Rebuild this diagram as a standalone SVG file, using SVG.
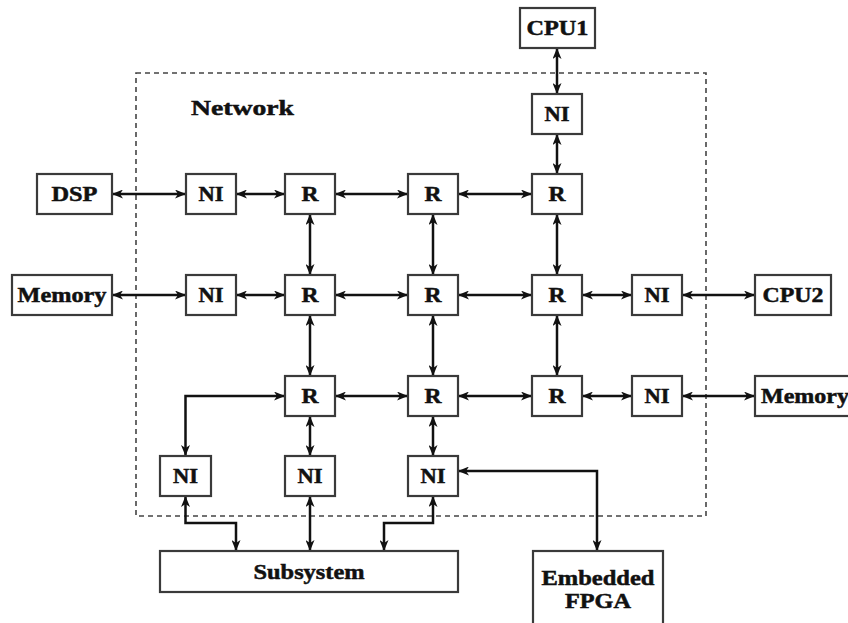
<svg xmlns="http://www.w3.org/2000/svg" width="848" height="623" viewBox="0 0 848 623">
<defs>
<marker id="ah" viewBox="0 0 11 9" refX="11" refY="4.5" markerWidth="11" markerHeight="9" markerUnits="userSpaceOnUse" orient="auto-start-reverse">
<path d="M0,0 L11,4.5 L0,9 L3,4.5 z" fill="#111"/>
</marker>
</defs>
<style>
.box{fill:#fff;stroke:#3a3a3a;stroke-width:2.2}
.lbl{font-family:"Liberation Serif","Tinos","Times New Roman",serif;font-weight:bold;font-size:21px;fill:#111;stroke:#111;stroke-width:0.5;text-anchor:middle}
.c{fill:none;stroke:#111;stroke-width:2.5;marker-start:url(#ah);marker-end:url(#ah)}
.net{fill:none;stroke:#444;stroke-width:1.6;stroke-dasharray:5,4}
</style>
<rect width="848" height="623" fill="#fff"/>
<g id="network">
<rect class="net" x="136" y="73" width="570" height="443"/>
<text class="lbl" x="191" y="115" style="text-anchor:start;font-size:22px" textLength="103" lengthAdjust="spacingAndGlyphs">Network</text>
</g>
<g id="connectors">
<line class="c" x1="557" y1="48" x2="557" y2="94"/>
<line class="c" x1="557" y1="134" x2="557" y2="174"/>
<line class="c" x1="112" y1="194" x2="186" y2="194"/>
<line class="c" x1="236" y1="194" x2="285" y2="194"/>
<line class="c" x1="335" y1="194" x2="408" y2="194"/>
<line class="c" x1="458" y1="194" x2="532" y2="194"/>
<line class="c" x1="310" y1="214" x2="310" y2="275"/>
<line class="c" x1="433" y1="214" x2="433" y2="275"/>
<line class="c" x1="557" y1="214" x2="557" y2="275"/>
<line class="c" x1="112" y1="295" x2="186" y2="295"/>
<line class="c" x1="236" y1="295" x2="285" y2="295"/>
<line class="c" x1="335" y1="295" x2="408" y2="295"/>
<line class="c" x1="458" y1="295" x2="532" y2="295"/>
<line class="c" x1="582" y1="295" x2="632" y2="295"/>
<line class="c" x1="682" y1="295" x2="755" y2="295"/>
<line class="c" x1="310" y1="315" x2="310" y2="376"/>
<line class="c" x1="433" y1="315" x2="433" y2="376"/>
<line class="c" x1="557" y1="315" x2="557" y2="376"/>
<line class="c" x1="335" y1="396" x2="408" y2="396"/>
<line class="c" x1="458" y1="396" x2="532" y2="396"/>
<line class="c" x1="582" y1="396" x2="632" y2="396"/>
<line class="c" x1="682" y1="396" x2="755" y2="396"/>
<polyline class="c" points="185.5,456 185.5,396 285,396"/>
<line class="c" x1="310" y1="416" x2="310" y2="456"/>
<line class="c" x1="433" y1="416" x2="433" y2="456"/>
<polyline class="c" points="458,471 597,471 597,551"/>
<polyline class="c" points="185.5,496 185.5,523 236,523 236,551"/>
<line class="c" x1="310" y1="496" x2="310" y2="551"/>
<polyline class="c" points="433,496 433,523 384,523 384,551"/>
</g>
<g id="cpu1"><rect class="box" x="520" y="8" width="75" height="40"/><text class="lbl" x="557.5" y="35" textLength="62" lengthAdjust="spacingAndGlyphs">CPU1</text></g>
<g id="ni_top"><rect class="box" x="532" y="94" width="50" height="40"/><text class="lbl" x="557" y="121" textLength="25" lengthAdjust="spacingAndGlyphs">NI</text></g>
<g id="dsp"><rect class="box" x="37" y="174" width="75" height="40"/><text class="lbl" x="74.5" y="201" textLength="46" lengthAdjust="spacingAndGlyphs">DSP</text></g>
<g id="ni_dsp"><rect class="box" x="186" y="174" width="50" height="40"/><text class="lbl" x="211" y="201" textLength="25" lengthAdjust="spacingAndGlyphs">NI</text></g>
<g id="r11"><rect class="box" x="285" y="174" width="50" height="40"/><text class="lbl" x="310" y="201" textLength="17" lengthAdjust="spacingAndGlyphs">R</text></g>
<g id="r12"><rect class="box" x="408" y="174" width="50" height="40"/><text class="lbl" x="433" y="201" textLength="17" lengthAdjust="spacingAndGlyphs">R</text></g>
<g id="r13"><rect class="box" x="532" y="174" width="50" height="40"/><text class="lbl" x="557" y="201" textLength="17" lengthAdjust="spacingAndGlyphs">R</text></g>
<g id="memory1"><rect class="box" x="12" y="275" width="100" height="40"/><text class="lbl" x="62" y="302" textLength="89" lengthAdjust="spacingAndGlyphs">Memory</text></g>
<g id="ni_mem1"><rect class="box" x="186" y="275" width="50" height="40"/><text class="lbl" x="211" y="302" textLength="25" lengthAdjust="spacingAndGlyphs">NI</text></g>
<g id="r21"><rect class="box" x="285" y="275" width="50" height="40"/><text class="lbl" x="310" y="302" textLength="17" lengthAdjust="spacingAndGlyphs">R</text></g>
<g id="r22"><rect class="box" x="408" y="275" width="50" height="40"/><text class="lbl" x="433" y="302" textLength="17" lengthAdjust="spacingAndGlyphs">R</text></g>
<g id="r23"><rect class="box" x="532" y="275" width="50" height="40"/><text class="lbl" x="557" y="302" textLength="17" lengthAdjust="spacingAndGlyphs">R</text></g>
<g id="ni_cpu2"><rect class="box" x="632" y="275" width="50" height="40"/><text class="lbl" x="657" y="302" textLength="25" lengthAdjust="spacingAndGlyphs">NI</text></g>
<g id="cpu2"><rect class="box" x="755" y="275" width="76" height="40"/><text class="lbl" x="793" y="302" textLength="61" lengthAdjust="spacingAndGlyphs">CPU2</text></g>
<g id="r31"><rect class="box" x="285" y="376" width="50" height="40"/><text class="lbl" x="310" y="403" textLength="17" lengthAdjust="spacingAndGlyphs">R</text></g>
<g id="r32"><rect class="box" x="408" y="376" width="50" height="40"/><text class="lbl" x="433" y="403" textLength="17" lengthAdjust="spacingAndGlyphs">R</text></g>
<g id="r33"><rect class="box" x="532" y="376" width="50" height="40"/><text class="lbl" x="557" y="403" textLength="17" lengthAdjust="spacingAndGlyphs">R</text></g>
<g id="ni_mem2"><rect class="box" x="632" y="376" width="50" height="40"/><text class="lbl" x="657" y="403" textLength="25" lengthAdjust="spacingAndGlyphs">NI</text></g>
<g id="memory2"><rect class="box" x="755" y="376" width="110" height="40"/><text class="lbl" x="761" y="403" style="text-anchor:start" textLength="88" lengthAdjust="spacingAndGlyphs">Memory</text></g>
<g id="ni_b1"><rect class="box" x="160" y="456" width="51" height="40"/><text class="lbl" x="185.5" y="483" textLength="25" lengthAdjust="spacingAndGlyphs">NI</text></g>
<g id="ni_b2"><rect class="box" x="285" y="456" width="50" height="40"/><text class="lbl" x="310" y="483" textLength="25" lengthAdjust="spacingAndGlyphs">NI</text></g>
<g id="ni_b3"><rect class="box" x="408" y="456" width="50" height="40"/><text class="lbl" x="433" y="483" textLength="25" lengthAdjust="spacingAndGlyphs">NI</text></g>
<g id="subsystem"><rect class="box" x="160" y="551" width="298" height="41"/><text class="lbl" x="309" y="579" textLength="111" lengthAdjust="spacingAndGlyphs">Subsystem</text></g>
<g id="fpga"><rect class="box" x="533" y="551" width="130" height="90"/><text class="lbl" x="598" y="585" textLength="113" lengthAdjust="spacingAndGlyphs">Embedded</text><text class="lbl" x="598" y="608" textLength="66" lengthAdjust="spacingAndGlyphs">FPGA</text></g>
</svg>
